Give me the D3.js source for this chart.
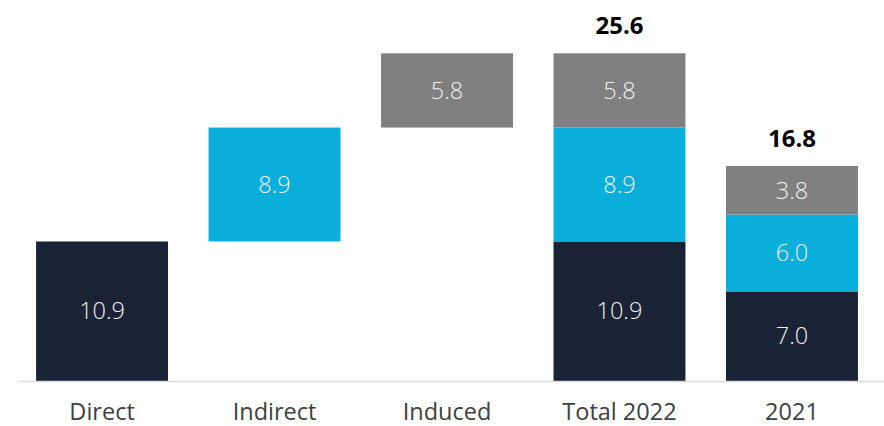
<!DOCTYPE html>
<html>
<head>
<meta charset="utf-8">
<script src="https://cdn.jsdelivr.net/npm/d3@7"></script>
<style>
  body { margin: 0; background: #fff; }
  svg { display: block; font-family: "Open Sans", sans-serif; }
</style>
</head>
<body>
<div id="chart"></div>
<script>
// data
var categories = ["Direct", "Indirect", "Induced", "Total 2022", "2021"];
var baseVals = [0, 10.9, 19.8, 0, 0];      // floating start for waterfall bars
var directVals = [10.9, 0, 0, 10.9, 7.0];
var indirectVals = [0, 8.9, 0, 8.9, 6.0];
var inducedVals = [0, 0, 5.8, 5.8, 3.8];
var totalVals = [null, null, null, 25.6, 16.8];

var seriesVals = [directVals, indirectVals, inducedVals];
var colors = ["#1a2236", "#0aaedb", "#808080"];

var width = 884, height = 426;

var svg = d3.select("#chart").append("svg")
  .attr("width", width)
  .attr("height", height);

var x = d3.scaleBand()
  .domain(categories)
  .range([19, 875])
  .paddingInner(0.235)
  .paddingOuter(0.099);

var y = d3.scaleLinear()
  .domain([0, 26])
  .range([381, 381 - 26 * 12.8]);

// build segments
var segments = [];
categories.forEach(function(cat, i) {
  var start = baseVals[i];
  seriesVals.forEach(function(vals, s) {
    var v = vals[i];
    if (v > 0) {
      segments.push({ cat: cat, s: s, y0: start, y1: start + v, v: v });
      start += v;
    }
  });
});

// bars
svg.append("g").selectAll("rect")
  .data(segments)
  .enter().append("rect")
  .attr("x", function(d) { return x(d.cat); })
  .attr("width", x.bandwidth())
  .attr("y", function(d) { return y(d.y1); })
  .attr("height", function(d) { return y(d.y0) - y(d.y1); })
  .attr("fill", function(d) { return colors[d.s]; });

// value labels
svg.append("g").selectAll("text")
  .data(segments)
  .enter().append("text")
  .attr("x", function(d) { return x(d.cat) + x.bandwidth() / 2; })
  .attr("y", function(d) { return (y(d.y0) + y(d.y1)) / 2; })
  .attr("dy", "0.35em")
  .attr("text-anchor", "middle")
  .attr("fill", "#f0f0f0")
  .style("font-size", "23.5px")
  .style("font-weight", 300)
  .text(function(d) { return d.v.toFixed(1); });

// totals
svg.append("g").selectAll("text")
  .data(categories.filter(function(c, i) { return totalVals[i] != null; }))
  .enter().append("text")
  .attr("x", function(d) { return x(d) + x.bandwidth() / 2; })
  .attr("y", function(d) { return y(totalVals[categories.indexOf(d)]) - 19; })
  .attr("text-anchor", "middle")
  .attr("fill", "#000")
  .style("font-size", "24px")
  .style("font-weight", 700)
  .text(function(d) { return totalVals[categories.indexOf(d)].toFixed(1); });

// x axis
var xAxis = svg.append("g")
  .attr("transform", "translate(0," + y(0) + ")")
  .call(d3.axisBottom(x).tickSize(0).tickPadding(0));
xAxis.select(".domain").remove();
xAxis.append("line")
  .attr("x1", 19).attr("x2", 884)
  .attr("y1", 0.5).attr("y2", 0.5)
  .attr("stroke", "#d9d9d9")
  .attr("stroke-width", 1.5);
xAxis.selectAll(".tick text")
  .attr("y", 39)
  .attr("dy", 0)
  .attr("fill", "#404040")
  .style("font-size", "23.5px")
  .style("font-family", "Open Sans, sans-serif");
</script>
</body>
</html>
